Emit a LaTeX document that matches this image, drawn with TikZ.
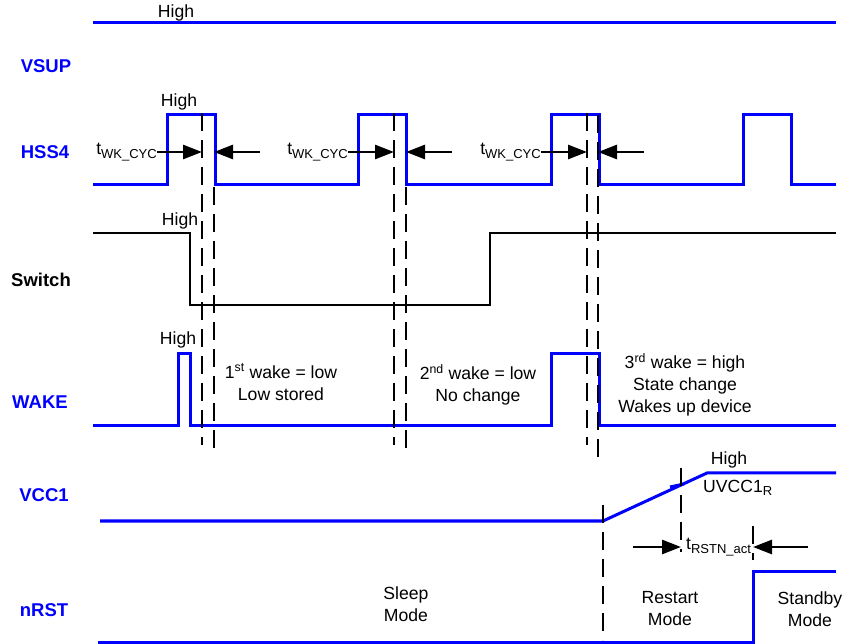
\documentclass[tikz,border=0pt]{standalone}
\usepackage{fontspec}
\setmainfont{Liberation Sans}
\usetikzlibrary{arrows.meta,positioning,calc}
\definecolor{sigblue}{RGB}{0,0,255}
\newcommand{\dfont}{\fontsize{17.6}{22}\selectfont}
\newcommand{\subtxt}[1]{\raisebox{-0.35ex}{\fontsize{13}{13}\selectfont #1}}
\tikzset{
  sig/.style      = {draw=sigblue,line width=3pt},
  swline/.style   = {draw=black,line width=2.8pt},
  marker/.style   = {draw=black,line width=2.8pt,dash pattern=on 18pt off 9pt},
  dimarrow/.style = {-{Triangle[length=19pt,width=14pt]},line width=2.8pt},
  siglab/.style   = {font=\fontsize{18.5}{22}\selectfont\bfseries,text=sigblue,inner sep=0pt},
  txt/.style      = {font=\dfont,align=center,inner sep=0pt},
}

\begin{document}
\begin{tikzpicture}[x=1pt,y=-1pt]
  \useasboundingbox (0,0) rectangle (847,644);

  % signal names
  \node[siglab] (vsup) at (46,66)  {VSUP};
  \node[siglab] (hss)  at (45,152) {HSS4};
  \node[siglab,text=black] (sw) at (41,280) {Switch};
  \node[siglab] (wake) at (40,402) {WAKE};
  \node[siglab] (vcc)  at (44,495) {VCC1};
  \node[siglab] (nrst) at (44,610) {nRST};

  % waveforms
  \draw[sig] (93,23) -- (836,23);
  \draw[sig] (93,185) -| (167,115) -| (215,185) -| (358,115) -| (406,185)
             -| (551,115) -| (599,185) -| (743,115) -| (791,185) -- (836,185);
  \draw[swline] (93,233) -| (190,305) -| (490,233) -- (836,233);
  \draw[sig] (93,426) -| (178,354) -| (190,426) -| (551,354) -| (599,426) -- (836,426);
  \draw[sig] (100,521) -- (603,521) -- (707,473) -- (836,473);
  \draw[sig] (670,487) -- (684,484);
  \draw[sig] (98,642) -| (753,571) -- (836,571);

  % event markers
  \foreach \i/\x/\ya/\yb in {1/202/113/445, 2/214/187/452, 3/394/113/445,
      4/406/187/452, 5/587/113/445, 6/598/115/465, 7/603/505/640,
      8/681/468/552, 9/753/526/560}{
    \coordinate (m\i) at (\x,\ya);
    \draw[marker] (m\i) -- (\x,\yb);
  }

  % levels
  \node[txt] (hi1) at (176,13)  {High};
  \node[txt] (hi2) at (179,102) {High};
  \node[txt] (hi3) at (180,221) {High};
  \node[txt] (hi4) at (178,340) {High};
  \node[txt] (hi5) at (729,460) {High};
  \node[txt,anchor=west] (uv) at (703,488) {UVCC1\subtxt{R}};

  % wake-up cycle times
  \node[txt,anchor=east] (tw1) at (157,152) {t\subtxt{WK\_CYC}};
  \node[txt,anchor=east] (tw2) at (348,152) {t\subtxt{WK\_CYC}};
  \node[txt,anchor=east] (tw3) at (541,152) {t\subtxt{WK\_CYC}};
  \coordinate (r1) at (260,152);
  \coordinate (r2) at (452,152);
  \coordinate (r3) at (644,152);
  \draw[dimarrow] (tw1.east) -- (tw1.east -| m1);
  \draw[dimarrow] (r1) -- (r1 -| m2);
  \draw[dimarrow] (tw2.east) -- (tw2.east -| m3);
  \draw[dimarrow] (r2) -- (r2 -| m4);
  \draw[dimarrow] (tw3.east) -- (tw3.east -| m5);
  \draw[dimarrow] (r3) -- (r3 -| m6);

  % reset delay
  \node[txt,anchor=west] (trst) at (686,547) {t\subtxt{RSTN\_act}};
  \coordinate (q1) at (633,547);
  \coordinate (q2) at (808,547);
  \draw[dimarrow] (q1) -- (q1 -| m8);
  \draw[dimarrow] (q2) -- (q2 -| m9);

  % notes
  \node[txt] (wk1) at (281,382) {1\textsuperscript{st} wake = low\\Low stored};
  \node[txt] (wk2) at (478,385) {2\textsuperscript{nd} wake = low\\No change};
  \node[txt] (wk3) at (685,385) {3\textsuperscript{rd} wake = high\\State change\\Wakes up device};
  \node[txt] (sleep) at (406,604) {Sleep\\Mode};
  \node[txt] (rest)  at (670,609) {Restart\\Mode};
  \node[txt] (stby)  at (810,609) {Standby\\Mode};
\end{tikzpicture}
\end{document}
